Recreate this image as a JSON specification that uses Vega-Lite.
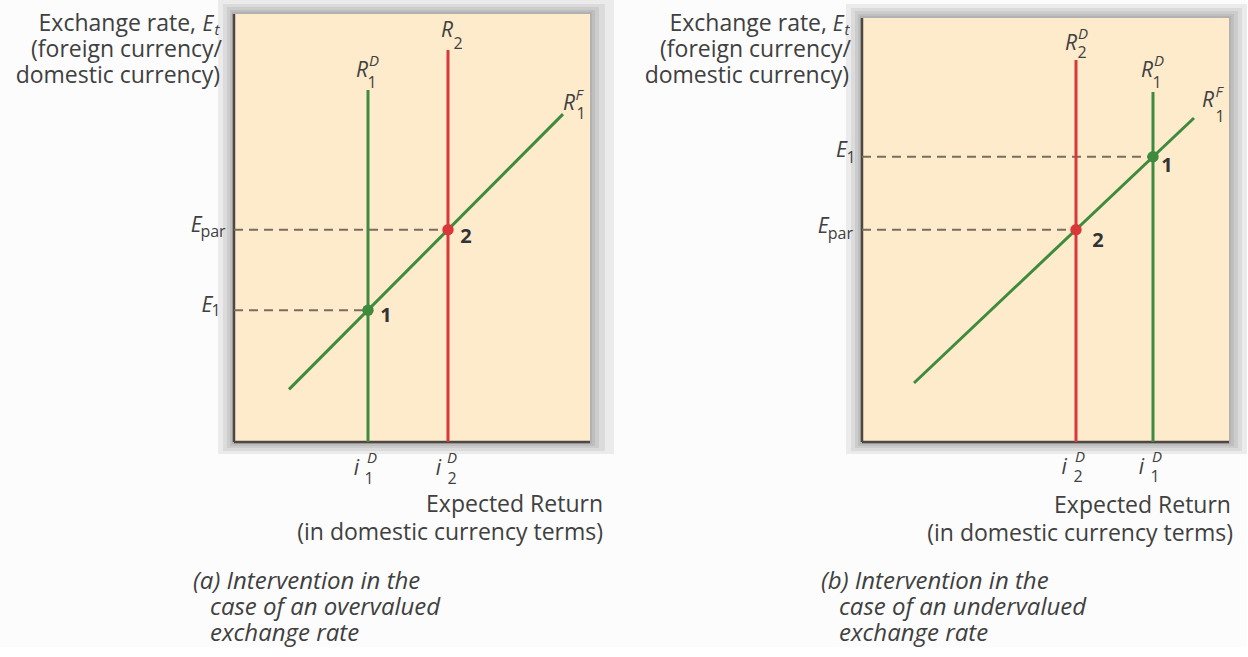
{
  "$schema": "https://vega.github.io/schema/vega-lite/v6.json",
  "background": "#fcfcfc",
  "padding": {"left": 15, "top": 0, "right": 0, "bottom": 0},
  "bounds": "flush",
  "spacing": 272,
  "config": {"view": {"stroke": null}, "font": "Open Sans"},
  "datasets": {
    "shadow": [
      {"panel": "a", "x": -0.56, "x2": 100.56, "y": -0.47, "y2": 100.47},
      {"panel": "a", "x": -1.12, "x2": 101.40, "y": -0.93, "y2": 100.93},
      {"panel": "a", "x": -1.97, "x2": 102.53, "y": -1.40, "y2": 101.64},
      {"panel": "a", "x": -3.09, "x2": 104.21, "y": -2.10, "y2": 102.34},
      {"panel": "a", "x": -4.49, "x2": 106.74, "y": -2.80, "y2": 103.27},
      {"panel": "b", "x": -0.54, "x2": 100.54, "y": -0.47, "y2": 99.54},
      {"panel": "b", "x": -1.09, "x2": 101.36, "y": -0.93, "y2": 100.00},
      {"panel": "b", "x": -1.91, "x2": 102.45, "y": -1.40, "y2": 100.71},
      {"panel": "b", "x": -3.00, "x2": 103.54, "y": -2.10, "y2": 101.41},
      {"panel": "b", "x": -4.36, "x2": 104.90, "y": -2.80, "y2": 102.34}
    ],
    "box": [
      {"panel": "a", "x": 0, "x2": 100, "y": 0, "y2": 100},
      {"panel": "b", "x": 0, "x2": 100, "y": 0, "y2": 99.07}
    ],
    "axes": [
      {"panel": "a", "x": 0, "x2": 0, "y": 0, "y2": 100},
      {"panel": "a", "x": 0, "x2": 100, "y": 0, "y2": 0},
      {"panel": "b", "x": 0, "x2": 0, "y": 0, "y2": 99.07},
      {"panel": "b", "x": 0, "x2": 100, "y": 0, "y2": 0}
    ],
    "guides": [
      {"panel": "a", "level": "E_par", "x": 0, "x2": 60.11, "y": 49.6, "y2": 49.6},
      {"panel": "a", "level": "E_1", "x": 0, "x2": 37.64, "y": 30.8, "y2": 30.8},
      {"panel": "b", "level": "E_par", "x": 0, "x2": 58.31, "y": 49.61, "y2": 49.61},
      {"panel": "b", "level": "E_1", "x": 0, "x2": 79.29, "y": 66.64, "y2": 66.64}
    ],
    "curves": [
      {"panel": "a", "curve": "R1D", "role": "initial", "x": 37.64, "x2": 37.64, "y": 0, "y2": 82.24},
      {"panel": "a", "curve": "R2", "role": "after intervention", "x": 60.11, "x2": 60.11, "y": 0, "y2": 91.59},
      {"panel": "a", "curve": "R1F", "role": "initial", "x": 15.45, "x2": 92.42, "y": 12.3, "y2": 76.6},
      {"panel": "b", "curve": "R2D", "role": "after intervention", "x": 58.31, "x2": 58.31, "y": 0, "y2": 89.25},
      {"panel": "b", "curve": "R1D", "role": "initial", "x": 79.29, "x2": 79.29, "y": 0, "y2": 81.78},
      {"panel": "b", "curve": "R1F", "role": "initial", "x": 14.17, "x2": 90.46, "y": 13.79, "y2": 75.70}
    ],
    "points": [
      {"panel": "a", "point": "1", "role": "initial", "x": 37.64, "y": 30.8},
      {"panel": "a", "point": "2", "role": "after intervention", "x": 60.11, "y": 49.6},
      {"panel": "b", "point": "1", "role": "initial", "x": 79.29, "y": 66.64},
      {"panel": "b", "point": "2", "role": "after intervention", "x": 58.31, "y": 49.61}
    ],
    "italic_labels": [
      {"panel": "a", "text": "R", "x": 35.96, "y": 85.28},
      {"panel": "a", "text": "R", "x": 59.83, "y": 94.63},
      {"panel": "a", "text": "R", "x": 94.10, "y": 77.57},
      {"panel": "a", "text": "E", "x": -10.6, "y": 49.07},
      {"panel": "a", "text": "E", "x": -7.6, "y": 30.37},
      {"panel": "a", "text": "i", "x": 34.4, "y": -7.71},
      {"panel": "a", "text": "i", "x": 57.4, "y": -7.71},
      {"panel": "a", "text": "E", "x": -7.3, "y": 96.03},
      {"panel": "b", "text": "R", "x": 56.95, "y": 91.59},
      {"panel": "b", "text": "R", "x": 77.66, "y": 85.28},
      {"panel": "b", "text": "R", "x": 94.28, "y": 78.27},
      {"panel": "b", "text": "E", "x": -5.6, "y": 66.59},
      {"panel": "b", "text": "E", "x": -10.6, "y": 48.83},
      {"panel": "b", "text": "i", "x": 55.1, "y": -7.48},
      {"panel": "b", "text": "i", "x": 76.1, "y": -7.48},
      {"panel": "b", "text": "E", "x": -6.5, "y": 96.03}
    ],
    "sup_labels": [
      {"panel": "a", "text": "D", "x": 39.33, "y": 87.85},
      {"panel": "a", "text": "F", "x": 96.91, "y": 79.91},
      {"panel": "a", "text": "D", "x": 38.76, "y": -4.91},
      {"panel": "a", "text": "D", "x": 61.24, "y": -4.91},
      {"panel": "a", "text": "t", "x": -4.78, "y": 95.1},
      {"panel": "b", "text": "D", "x": 60.22, "y": 94.16},
      {"panel": "b", "text": "D", "x": 80.93, "y": 87.85},
      {"panel": "b", "text": "F", "x": 97.28, "y": 80.61},
      {"panel": "b", "text": "D", "x": 59.40, "y": -4.67},
      {"panel": "b", "text": "D", "x": 80.38, "y": -4.67},
      {"panel": "b", "text": "t", "x": -4.09, "y": 95.1}
    ],
    "sub_labels": [
      {"panel": "a", "text": "1", "x": 38.76, "y": 82.71},
      {"panel": "a", "text": "2", "x": 62.92, "y": 91.82},
      {"panel": "a", "text": "1", "x": 97.47, "y": 75.47},
      {"panel": "a", "text": "par", "x": -5.9, "y": 47.90},
      {"panel": "a", "text": "1", "x": -5.06, "y": 29.44},
      {"panel": "a", "text": "1", "x": 37.92, "y": -9.81},
      {"panel": "a", "text": "2", "x": 61.24, "y": -9.81},
      {"panel": "b", "text": "2", "x": 59.95, "y": 89.72},
      {"panel": "b", "text": "1", "x": 80.38, "y": 82.71},
      {"panel": "b", "text": "1", "x": 97.55, "y": 74.77},
      {"panel": "b", "text": "1", "x": -3.00, "y": 65.19},
      {"panel": "b", "text": "par", "x": -5.9, "y": 47.43},
      {"panel": "b", "text": "2", "x": 58.86, "y": -9.35},
      {"panel": "b", "text": "1", "x": 79.84, "y": -9.35}
    ],
    "point_labels": [
      {"panel": "a", "text": "1", "x": 42.70, "y": 29.44},
      {"panel": "a", "text": "2", "x": 65.17, "y": 47.90},
      {"panel": "b", "text": "1", "x": 83.11, "y": 64.49},
      {"panel": "b", "text": "2", "x": 64.31, "y": 46.96}
    ],
    "plain_right": [
      {"panel": "a", "text": "Exchange rate,", "x": -10.67, "y": 96.03},
      {"panel": "a", "text": "(foreign currency/", "x": -3.37, "y": 89.95},
      {"panel": "a", "text": "domestic currency)", "x": -3.93, "y": 83.88},
      {"panel": "a", "text": "Expected Return", "x": 103.65, "y": -16.36},
      {"panel": "a", "text": "(in domestic currency terms)", "x": 103.65, "y": -22.90},
      {"panel": "b", "text": "Exchange rate,", "x": -9.54, "y": 96.03},
      {"panel": "b", "text": "(foreign currency/", "x": -3.00, "y": 89.95},
      {"panel": "b", "text": "domestic currency)", "x": -3.54, "y": 83.88},
      {"panel": "b", "text": "Expected Return", "x": 100.54, "y": -16.59},
      {"panel": "b", "text": "(in domestic currency terms)", "x": 101.09, "y": -23.13}
    ],
    "captions": [
      {"panel": "a", "text": "(a) Intervention in the", "x": -11.52, "y": -34.35},
      {"panel": "a", "text": "case of an overvalued", "x": -6.74, "y": -40.42},
      {"panel": "a", "text": "exchange rate", "x": -6.74, "y": -46.50},
      {"panel": "b", "text": "(b) Intervention in the", "x": -11.17, "y": -34.35},
      {"panel": "b", "text": "case of an undervalued", "x": -6.27, "y": -40.42},
      {"panel": "b", "text": "exchange rate", "x": -6.27, "y": -46.50}
    ]
  },
  "hconcat": [
    {
      "width": 356,
      "height": 428,
      "encoding": {
        "x": {"field": "x", "type": "quantitative", "scale": {"domain": [0, 100], "nice": false, "zero": false}, "axis": null},
        "y": {"field": "y", "type": "quantitative", "scale": {"domain": [0, 100], "nice": false, "zero": false}, "axis": null}
      },
      "layer": [
        {"data": {"name": "shadow"}, "transform": [{"filter": "datum.panel === 'a'"}], "mark": {"type": "rect", "color": "#000000", "opacity": 0.065}, "encoding": {"x2": {"field": "x2"}, "y2": {"field": "y2"}}},
        {"data": {"name": "box"}, "transform": [{"filter": "datum.panel === 'a'"}], "mark": {"type": "rect", "color": "#FEEBCB"}, "encoding": {"x2": {"field": "x2"}, "y2": {"field": "y2"}}},
        {"data": {"name": "axes"}, "transform": [{"filter": "datum.panel === 'a'"}], "mark": {"type": "rule", "color": "#4d4843", "strokeWidth": 2.5}, "encoding": {"x2": {"field": "x2"}, "y2": {"field": "y2"}}},
        {"data": {"name": "guides"}, "transform": [{"filter": "datum.panel === 'a'"}], "mark": {"type": "rule", "color": "#7a6d5f", "strokeWidth": 2, "strokeDash": [9, 6]}, "encoding": {"x2": {"field": "x2"}, "y2": {"field": "y2"}}},
        {"data": {"name": "curves"}, "transform": [{"filter": "datum.panel === 'a'"}], "mark": {"type": "rule", "strokeWidth": 3}, "encoding": {"x2": {"field": "x2"}, "y2": {"field": "y2"}, "color": {"field": "role", "type": "nominal", "scale": {"domain": ["initial", "after intervention"], "range": ["#3E8B3E", "#D8383A"]}, "legend": null}}},
        {"data": {"name": "points"}, "transform": [{"filter": "datum.panel === 'a'"}], "mark": {"type": "circle", "size": 130, "opacity": 1}, "encoding": {"color": {"field": "role", "type": "nominal", "scale": {"domain": ["initial", "after intervention"], "range": ["#3E8B3E", "#D8383A"]}, "legend": null}}},
        {"data": {"name": "italic_labels"}, "transform": [{"filter": "datum.panel === 'a'"}], "mark": {"type": "text", "fontStyle": "italic", "fontSize": 21, "align": "center", "baseline": "alphabetic", "color": "#404040"}, "encoding": {"text": {"field": "text"}}},
        {"data": {"name": "sup_labels"}, "transform": [{"filter": "datum.panel === 'a'"}], "mark": {"type": "text", "fontStyle": "italic", "fontSize": 15, "align": "center", "baseline": "alphabetic", "color": "#404040"}, "encoding": {"text": {"field": "text"}}},
        {"data": {"name": "sub_labels"}, "transform": [{"filter": "datum.panel === 'a'"}], "mark": {"type": "text", "fontSize": 16, "align": "center", "baseline": "alphabetic", "color": "#404040"}, "encoding": {"text": {"field": "text"}}},
        {"data": {"name": "point_labels"}, "transform": [{"filter": "datum.panel === 'a'"}], "mark": {"type": "text", "fontSize": 20, "fontWeight": "bold", "align": "center", "baseline": "middle", "color": "#333333"}, "encoding": {"text": {"field": "text"}}},
        {"data": {"name": "plain_right"}, "transform": [{"filter": "datum.panel === 'a'"}], "mark": {"type": "text", "fontSize": 23, "align": "right", "baseline": "alphabetic", "color": "#404040"}, "encoding": {"text": {"field": "text"}}},
        {"data": {"name": "captions"}, "transform": [{"filter": "datum.panel === 'a'"}], "mark": {"type": "text", "fontSize": 24, "fontStyle": "italic", "align": "left", "baseline": "alphabetic", "color": "#404040"}, "encoding": {"text": {"field": "text"}}}
      ]
    },
    {
      "width": 367,
      "height": 428,
      "encoding": {
        "x": {"field": "x", "type": "quantitative", "scale": {"domain": [0, 100], "nice": false, "zero": false}, "axis": null},
        "y": {"field": "y", "type": "quantitative", "scale": {"domain": [0, 100], "nice": false, "zero": false}, "axis": null}
      },
      "layer": [
        {"data": {"name": "shadow"}, "transform": [{"filter": "datum.panel === 'b'"}], "mark": {"type": "rect", "color": "#000000", "opacity": 0.065}, "encoding": {"x2": {"field": "x2"}, "y2": {"field": "y2"}}},
        {"data": {"name": "box"}, "transform": [{"filter": "datum.panel === 'b'"}], "mark": {"type": "rect", "color": "#FEEBCB"}, "encoding": {"x2": {"field": "x2"}, "y2": {"field": "y2"}}},
        {"data": {"name": "axes"}, "transform": [{"filter": "datum.panel === 'b'"}], "mark": {"type": "rule", "color": "#4d4843", "strokeWidth": 2.5}, "encoding": {"x2": {"field": "x2"}, "y2": {"field": "y2"}}},
        {"data": {"name": "guides"}, "transform": [{"filter": "datum.panel === 'b'"}], "mark": {"type": "rule", "color": "#7a6d5f", "strokeWidth": 2, "strokeDash": [9, 6]}, "encoding": {"x2": {"field": "x2"}, "y2": {"field": "y2"}}},
        {"data": {"name": "curves"}, "transform": [{"filter": "datum.panel === 'b'"}], "mark": {"type": "rule", "strokeWidth": 3}, "encoding": {"x2": {"field": "x2"}, "y2": {"field": "y2"}, "color": {"field": "role", "type": "nominal", "scale": {"domain": ["initial", "after intervention"], "range": ["#3E8B3E", "#D8383A"]}, "legend": null}}},
        {"data": {"name": "points"}, "transform": [{"filter": "datum.panel === 'b'"}], "mark": {"type": "circle", "size": 130, "opacity": 1}, "encoding": {"color": {"field": "role", "type": "nominal", "scale": {"domain": ["initial", "after intervention"], "range": ["#3E8B3E", "#D8383A"]}, "legend": null}}},
        {"data": {"name": "italic_labels"}, "transform": [{"filter": "datum.panel === 'b'"}], "mark": {"type": "text", "fontStyle": "italic", "fontSize": 21, "align": "center", "baseline": "alphabetic", "color": "#404040"}, "encoding": {"text": {"field": "text"}}},
        {"data": {"name": "sup_labels"}, "transform": [{"filter": "datum.panel === 'b'"}], "mark": {"type": "text", "fontStyle": "italic", "fontSize": 15, "align": "center", "baseline": "alphabetic", "color": "#404040"}, "encoding": {"text": {"field": "text"}}},
        {"data": {"name": "sub_labels"}, "transform": [{"filter": "datum.panel === 'b'"}], "mark": {"type": "text", "fontSize": 16, "align": "center", "baseline": "alphabetic", "color": "#404040"}, "encoding": {"text": {"field": "text"}}},
        {"data": {"name": "point_labels"}, "transform": [{"filter": "datum.panel === 'b'"}], "mark": {"type": "text", "fontSize": 20, "fontWeight": "bold", "align": "center", "baseline": "middle", "color": "#333333"}, "encoding": {"text": {"field": "text"}}},
        {"data": {"name": "plain_right"}, "transform": [{"filter": "datum.panel === 'b'"}], "mark": {"type": "text", "fontSize": 23, "align": "right", "baseline": "alphabetic", "color": "#404040"}, "encoding": {"text": {"field": "text"}}},
        {"data": {"name": "captions"}, "transform": [{"filter": "datum.panel === 'b'"}], "mark": {"type": "text", "fontSize": 24, "fontStyle": "italic", "align": "left", "baseline": "alphabetic", "color": "#404040"}, "encoding": {"text": {"field": "text"}}}
      ]
    }
  ]
}
